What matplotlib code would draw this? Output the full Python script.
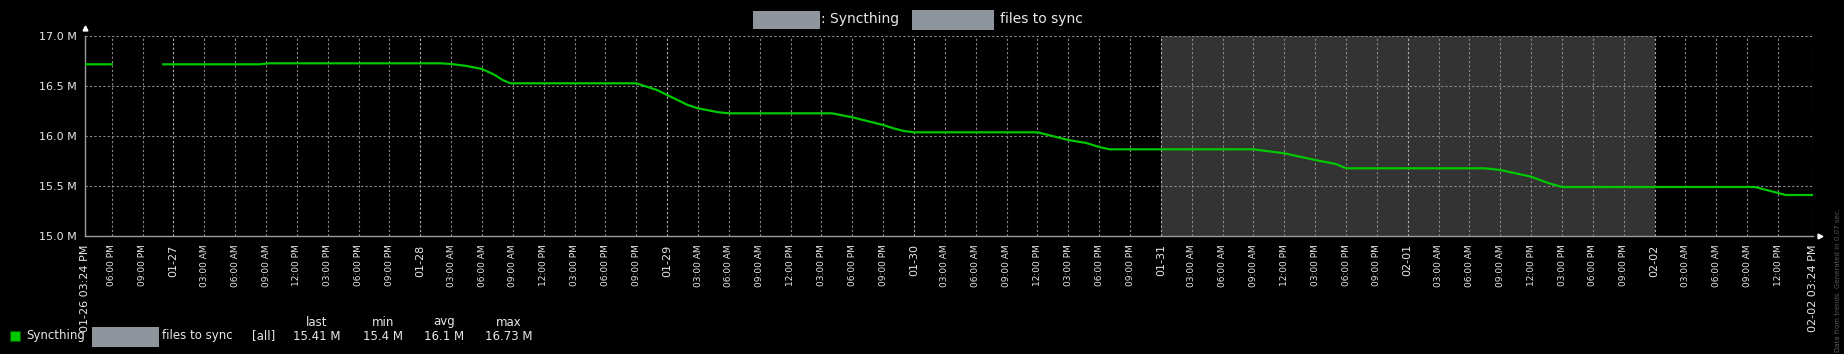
import matplotlib
matplotlib.use('Agg')
import matplotlib.pyplot as plt
import matplotlib.dates as mdates
from matplotlib.patches import Rectangle
import numpy as np
import pandas as pd

W, H = 1844, 354

# files to sync (millions)
times = ['2026-01-26 15:24', '2026-01-26 18:00', '2026-01-26 18:01', '2026-01-26 23:00',
         '2026-01-27 08:20', '2026-01-27 09:20', '2026-01-28 02:00', '2026-01-28 03:00',
         '2026-01-28 04:30', '2026-01-28 06:00', '2026-01-28 07:15', '2026-01-28 08:00',
         '2026-01-28 08:45', '2026-01-28 21:00', '2026-01-28 23:00', '2026-01-29 00:00',
         '2026-01-29 02:00', '2026-01-29 03:00', '2026-01-29 05:00', '2026-01-29 06:00',
         '2026-01-29 16:00', '2026-01-29 18:00', '2026-01-29 21:00', '2026-01-29 22:00',
         '2026-01-29 23:00', '2026-01-30 00:00', '2026-01-30 12:00', '2026-01-30 15:00',
         '2026-01-30 16:45', '2026-01-30 18:00', '2026-01-30 19:00', '2026-01-31 09:00',
         '2026-01-31 12:00', '2026-01-31 15:00', '2026-01-31 17:00', '2026-01-31 18:00',
         '2026-02-01 07:30', '2026-02-01 09:00', '2026-02-01 12:00', '2026-02-01 13:45',
         '2026-02-01 15:00', '2026-02-02 09:45', '2026-02-02 11:15', '2026-02-02 12:45',
         '2026-02-02 15:24']
values = [16.717, 16.717, np.nan, 16.717,
          16.717, 16.727, 16.727, 16.72,
          16.70, 16.67, 16.61, 16.56,
          16.527, 16.527, 16.46, 16.41,
          16.31, 16.277, 16.237, 16.227,
          16.227, 16.187, 16.11, 16.077,
          16.05, 16.037, 16.037, 15.96,
          15.93, 15.89, 15.867, 15.867,
          15.827, 15.76, 15.72, 15.677,
          15.677, 15.66, 15.593, 15.527,
          15.49, 15.49, 15.45, 15.41,
          15.41]

legend_stats = ['15.41 M', '15.4 M', '16.1 M', '16.73 M']
legend_heads = ['last', 'min', 'avg', 'max']

t_start = pd.Timestamp('2026-01-26 15:24')
t_end = pd.Timestamp('2026-02-02 15:24')
weekend = (pd.Timestamp('2026-01-31 00:00'), pd.Timestamp('2026-02-02 00:00'))

txt = '#e8e8e8'
redact = '#8e959c'

fig = plt.figure(figsize=(W / 100, H / 100), dpi=100, facecolor='black')
ax = fig.add_axes([85 / W, 1 - 236 / H, (1813 - 85) / W, 200 / H])
ax.set_facecolor('black')

ax.axvspan(weekend[0], weekend[1], color='#333333', zorder=0.5, lw=0)
ax.plot(pd.to_datetime(times), values, color='#00c800', lw=1.6, zorder=3)

ax.set_xlim(t_start, t_end)
ax.set_ylim(15.0, 17.0)

# y axis
yt = np.arange(15.0, 17.01, 0.5)
ax.set_yticks(yt)
ax.set_yticklabels([f'{v:.1f} M' for v in yt])
ax.tick_params(axis='y', length=0, pad=6, labelsize=8, labelcolor=txt)

# x axis: every 3 hours, days at midnight, plus start / end
grid_t = list(pd.date_range('2026-01-26 18:00', '2026-02-02 12:00', freq='3h'))
xt = [t_start] + grid_t + [t_end]
labels = []
for t in xt:
    if t in (t_start, t_end):
        labels.append(t.strftime('%m-%d %I:%M %p'))
    elif t.hour == 0:
        labels.append(t.strftime('%m-%d'))
    else:
        labels.append(t.strftime('%I:%M %p'))
ax.set_xticks(mdates.date2num(xt))
ax.set_xticklabels(labels, rotation=90, va='top', ha='center')
ax.tick_params(axis='x', length=0, pad=6, labelcolor=txt)
for t, lab in zip(xt, ax.get_xticklabels()):
    if t in (t_start, t_end) or t.hour == 0:
        lab.set_fontsize(8)
    else:
        lab.set_fontsize(6.5)

ax.grid(True, color='#8a8a8a', linestyle=(0, (2, 2)), lw=0.8, zorder=1)
for t, tick in zip(xt, ax.xaxis.get_major_ticks()):
    if t.hour == 0 and t.minute == 0:
        tick.gridline.set_color('#b4b4b4')

for s in ['top', 'right']:
    ax.spines[s].set_visible(False)
for s in ['left', 'bottom']:
    ax.spines[s].set_color('#9a9a9a')
    ax.spines[s].set_linewidth(1)

# little arrows at axis ends
ax.plot([0], [1.04], marker='^', color='white', ms=3.5, transform=ax.transAxes, clip_on=False)
ax.plot([1.004], [0], marker='>', color='white', ms=3.5, transform=ax.transAxes, clip_on=False)


def box(x, y, w, h, color):
    fig.add_artist(Rectangle((x / W, 1 - (y + h) / H), w / W, h / H,
                             transform=fig.transFigure, color=color, lw=0))


def ftext(x, y, s, **kw):
    kw.setdefault('color', txt)
    kw.setdefault('va', 'center')
    fig.text(x / W, 1 - y / H, s, **kw)


# title (host / item names blanked out)
box(753, 11, 67, 18, redact)
ftext(821, 19, ': Syncthing', fontsize=10)
box(912, 10, 82, 20, redact)
ftext(1000, 19, 'files to sync', fontsize=10)

# legend
fig.add_artist(Rectangle((10 / W, 1 - 341 / H), 10 / W, 10 / H, transform=fig.transFigure,
                         facecolor='#00c800', edgecolor='#006000', lw=0.8))
ftext(26, 336, 'Syncthing', fontsize=8.5)
box(92, 327, 67, 20, redact)
ftext(162, 336, 'files to sync', fontsize=8.5)
ftext(252, 336, '[all]', fontsize=8.5)
for xc, head, val in zip([317, 383, 444, 509], legend_heads, legend_stats):
    ftext(xc, 322, head, fontsize=8.5, ha='center')
    ftext(xc, 336, val, fontsize=8.5, ha='center')

ftext(1838, 352, 'Data from trends. Generated in 0.07 sec.', fontsize=5, color='#5a5a5a',
      rotation=90, ha='center', va='bottom')

plt.savefig('out.png', dpi=100, facecolor='black')
